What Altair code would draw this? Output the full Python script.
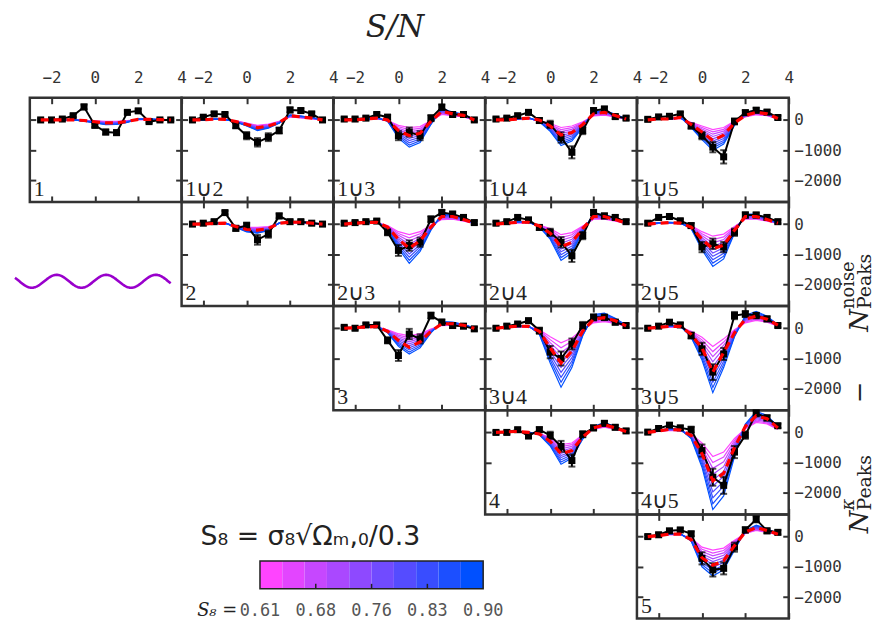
import altair as alt
import numpy as np
import pandas as pd

# ---------------- data ----------------
SN = [-2.5, -2.0, -1.5, -1.0, -0.5, 0.0, 0.5, 1.0, 1.5, 2.0, 2.5, 3.0, 3.5]

S8_VALUES = [0.61, 0.642, 0.674, 0.707, 0.739, 0.771, 0.803, 0.836, 0.868, 0.90]
S8_COLORS = ["#ff44ff", "#e345ff", "#c647ff", "#aa48ff", "#8e49ff",
             "#714bff", "#554cff", "#394dff", "#1c4fff", "#0050ff"]
CB_EDGES = [0.61, 0.639, 0.668, 0.697, 0.726, 0.755, 0.784, 0.813, 0.842, 0.871, 0.90]
CB_TICKS = [0.61, 0.6825, 0.755, 0.8275, 0.90]
CB_LABELS = ["0.61", "0.68", "0.76", "0.83", "0.90"]

# observed peak-count differences (black)
DATA = {
    "1":   [0, 0, 30, 140, 430, -180, -400, -420, 250, 300, -55, 0, 0],
    "1∪2": [0, 90, 200, 180, -190, -520, -740, -570, -350, 330, 310, 200, 0],
    "1∪3": [30, 30, 60, 180, 90, -520, -400, -520, 60, 420, 180, 180, 0],
    "1∪4": [30, 60, 140, 250, -20, -150, -580, -1070, -350, 310, 360, 110, 60],
    "1∪5": [20, 100, 120, 200, -200, -520, -900, -1220, -50, 240, 320, 260, 80],
    "2":   [0, 30, 80, 380, -140, -50, -520, -330, 270, 80, 80, 30, 0],
    "2∪3": [30, 50, 80, 100, -270, -870, -710, -600, 160, 380, 330, 220, 50],
    "2∪4": [30, 80, 220, 140, -110, -270, -600, -1050, -380, 380, 270, 220, 80],
    "2∪5": [30, 220, 250, 110, -50, -760, -650, -760, -270, 300, 300, 220, 80],
    "3":   [30, 0, 110, 110, -400, -900, -190, -350, 420, 200, 90, 70, -20],
    "3∪4": [0, 70, 140, 250, -80, -790, -1000, -520, 90, 360, 360, 200, 90],
    "3∪5": [0, 70, 200, 110, -240, -680, -1450, -850, 420, 470, 420, 310, 90],
    "4":   [0, 0, 90, -120, 90, -100, -460, -930, -60, 150, 300, 170, 50],
    "4∪5": [10, 130, 240, 150, 90, -600, -1480, -1750, -650, -90, 630, 480, 220],
    "5":   [0, 60, 190, 220, 90, -720, -1100, -1050, -350, 220, 570, 190, 140],
}
ERR = {
    "1":   [40, 40, 40, 50, 80, 60, 80, 80, 60, 60, 40, 40, 40],
    "1∪2": [50, 50, 60, 60, 80, 120, 140, 130, 100, 80, 70, 60, 50],
    "1∪3": [50, 50, 60, 60, 80, 150, 150, 150, 100, 90, 80, 70, 50],
    "1∪4": [50, 50, 60, 60, 80, 120, 170, 200, 120, 80, 80, 70, 60],
    "1∪5": [50, 60, 60, 60, 80, 120, 170, 220, 100, 80, 80, 70, 60],
    "2":   [50, 50, 50, 60, 80, 100, 160, 120, 80, 60, 60, 50, 50],
    "2∪3": [50, 50, 60, 60, 100, 180, 170, 150, 100, 90, 80, 70, 60],
    "2∪4": [50, 50, 60, 60, 80, 120, 170, 200, 120, 90, 80, 70, 60],
    "2∪5": [50, 60, 60, 60, 80, 170, 170, 170, 120, 90, 80, 70, 60],
    "3":   [50, 50, 60, 60, 100, 180, 170, 150, 100, 90, 80, 70, 60],
    "3∪4": [50, 60, 60, 70, 100, 200, 230, 180, 120, 100, 90, 80, 60],
    "3∪5": [50, 60, 60, 70, 100, 200, 260, 200, 120, 100, 90, 80, 60],
    "4":   [50, 50, 60, 60, 80, 120, 180, 200, 100, 80, 80, 70, 60],
    "4∪5": [50, 60, 60, 70, 100, 200, 280, 280, 200, 120, 100, 90, 70],
    "5":   [50, 60, 60, 60, 80, 200, 220, 200, 150, 90, 100, 80, 70],
}
# fiducial model (red dashed)
FID = {
    "1":   [0, 0, 0, 0, -20, -60, -100, -100, -50, 20, 20, 10, 0],
    "1∪2": [0, 0, 30, 20, -50, -150, -260, -200, -80, 140, 100, 60, 0],
    "1∪3": [0, 0, 30, 60, 0, -350, -520, -440, -50, 290, 200, 150, 0],
    "1∪4": [0, 0, 30, 60, 0, -200, -500, -420, -150, 200, 250, 150, 30],
    "1∪5": [0, 30, 30, 80, -150, -400, -680, -500, -100, 150, 250, 200, 50],
    "2":   [0, 0, 20, 30, -80, -180, -200, -150, 30, 60, 60, 30, 0],
    "2∪3": [0, 30, 50, 60, -100, -500, -800, -550, -100, 250, 250, 150, 30],
    "2∪4": [0, 30, 60, 60, -60, -300, -750, -600, -150, 250, 250, 150, 30],
    "2∪5": [0, 30, 50, 30, -100, -500, -820, -700, -200, 250, 250, 150, 30],
    "3":   [0, 20, 40, 60, -100, -400, -630, -450, -100, 150, 150, 100, 0],
    "3∪4": [0, 40, 70, 60, -100, -650, -1150, -750, -100, 300, 350, 250, 80],
    "3∪5": [0, 30, 60, 60, -200, -650, -1450, -800, -150, 300, 400, 300, 100],
    "4":   [0, 20, 30, 0, -50, -300, -700, -600, -150, 150, 250, 150, 30],
    "4∪5": [0, 50, 100, 80, -100, -700, -1600, -1350, -500, 200, 550, 450, 150],
    "5":   [0, 30, 80, 80, -100, -700, -950, -800, -300, 150, 300, 200, 80],
}
# model curves at the lowest (S8 = 0.61) and highest (S8 = 0.90) S8
MODEL_LO = {
    "1":   [0, 0, 0, 0, -10, -30, -50, -50, -20, 10, 10, 5, 0],
    "1∪2": [0, 0, 20, 15, -30, -100, -180, -140, -50, 100, 70, 40, 0],
    "1∪3": [0, 0, 20, 40, -20, -180, -250, -220, -20, 180, 140, 100, 0],
    "1∪4": [0, 0, 20, 40, -20, -120, -250, -200, -60, 130, 160, 100, 20],
    "1∪5": [0, 20, 20, 50, -80, -200, -320, -250, -40, 100, 170, 140, 30],
    "2":   [0, 0, 15, 20, -50, -100, -110, -80, 20, 40, 40, 20, 0],
    "2∪3": [0, 20, 30, 40, -50, -250, -350, -250, -30, 150, 160, 100, 20],
    "2∪4": [0, 20, 40, 40, -30, -150, -350, -280, -60, 160, 160, 100, 20],
    "2∪5": [0, 20, 30, 20, -50, -250, -400, -330, -80, 160, 160, 100, 20],
    "3":   [0, 10, 30, 40, -50, -180, -250, -180, -30, 90, 100, 70, 0],
    "3∪4": [0, 30, 50, 40, -50, -280, -480, -320, -30, 180, 220, 160, 60],
    "3∪5": [0, 20, 40, 40, -100, -300, -600, -350, -50, 180, 260, 200, 70],
    "4":   [0, 10, 20, 0, -30, -180, -400, -350, -80, 100, 170, 100, 20],
    "4∪5": [0, 30, 70, 50, -50, -350, -800, -650, -200, 120, 330, 280, 100],
    "5":   [0, 20, 60, 60, -50, -350, -450, -380, -120, 100, 200, 140, 60],
}
MODEL_HI = {
    "1":   [0, 0, 0, 0, -40, -100, -160, -150, -80, 30, 30, 15, 0],
    "1∪2": [0, 0, 30, 20, -70, -200, -350, -270, -110, 170, 130, 80, 0],
    "1∪3": [0, 10, 40, 80, -40, -600, -900, -750, -150, 380, 260, 190, 10],
    "1∪4": [0, 10, 40, 80, -60, -380, -850, -700, -250, 280, 320, 190, 40],
    "1∪5": [0, 40, 40, 100, -250, -650, -1000, -800, -180, 230, 340, 260, 60],
    "2":   [0, 0, 25, 40, -110, -260, -300, -220, 40, 80, 80, 40, 0],
    "2∪3": [0, 40, 60, 80, -170, -800, -1300, -900, -200, 330, 320, 190, 40],
    "2∪4": [0, 40, 80, 80, -100, -500, -1200, -950, -250, 340, 320, 190, 40],
    "2∪5": [0, 40, 60, 40, -150, -850, -1400, -1150, -300, 330, 330, 190, 40],
    "3":   [0, 30, 50, 70, -150, -600, -850, -650, -150, 220, 200, 130, 10],
    "3∪4": [0, 50, 80, 80, -200, -1150, -1950, -1300, -250, 450, 500, 330, 100],
    "3∪5": [0, 40, 80, 80, -300, -1050, -2130, -1300, -280, 420, 560, 400, 120],
    "4":   [0, 30, 40, 10, -80, -450, -1050, -850, -220, 200, 320, 200, 40],
    "4∪5": [0, 70, 130, 110, -200, -1150, -2550, -2100, -800, 280, 700, 560, 200],
    "5":   [0, 40, 100, 100, -150, -1000, -1300, -1100, -450, 200, 380, 260, 100],
}

GRID = [
    ["1", "1∪2", "1∪3", "1∪4", "1∪5"],
    ["WAVE", "2", "2∪3", "2∪4", "2∪5"],
    [None, None, "3", "3∪4", "3∪5"],
    [None, None, None, "4", "4∪5"],
    ["CBAR", None, None, None, "5"],
]

# ---------------- layout constants ----------------
W, H = 153, 105
XDOM = [-3, 4]
YDOM = [-2710, 733]
TICK_FONT = "DejaVu Sans Mono"
DARK = "#333333"
TOP0 = 97          # page y of the first panel row
COL5_LEFT = 636    # page x of the last panel column


def axis(orient, values, labels, pad):
    return alt.Axis(orient=orient, values=values, labels=labels, grid=False,
                    domain=False, ticks=True, tickSize=6, offset=-6,
                    tickColor=DARK, tickWidth=2, title=None, format="d",
                    labelFont=TICK_FONT, labelFontSize=16, labelColor=DARK,
                    labelOverlap=False, labelFlush=False, labelPadding=pad)


def model_frame(name):
    lo = np.array(MODEL_LO[name], dtype=float)
    hi = np.array(MODEL_HI[name], dtype=float)
    rows = []
    for k in range(len(S8_VALUES)):
        w = k / (len(S8_VALUES) - 1)
        vals = lo + (hi - lo) * w
        for s, v in zip(SN, vals):
            rows.append({"sn": s, "v": float(v), "k": k})
    return pd.DataFrame(rows)


def text_piece(t, fs, style, px, py, angle=0, align="left", baseline="alphabetic", font="DejaVu Serif"):
    kw = dict(align=align, baseline=baseline, font=font, fontSize=fs,
              fontStyle=style, color="#222")
    if angle:
        kw["angle"] = angle
    return alt.Chart(pd.DataFrame({"t": [t]})).mark_text(**kw).encode(
        x=alt.value(px), y=alt.value(py), text="t:N")


def ytitle_layers():
    # N^kappa_Peaks  -  N^noise_Peaks, rotated, read bottom-to-top (page coords)
    top = TOP0 + 2 * H
    pieces = [
        ("N", 26, "italic", 869, 536),
        ("κ", 18, "italic", 855, 513),
        ("Peaks", 19, "normal", 872, 513),
        ("−", 26, "normal", 869, 405),
        ("N", 26, "italic", 869, 333),
        ("noise", 18, "normal", 855, 310),
        ("Peaks", 19, "normal", 872, 310),
    ]
    return [text_piece(t, fs, st, gx - COL5_LEFT, gy - top, angle=270)
            for t, fs, st, gx, gy in pieces]


def panel(name, top_labels, right_labels):
    xs = alt.Scale(domain=XDOM, nice=False, zero=False)
    ys = alt.Scale(domain=YDOM, nice=False, zero=False)
    obs = pd.DataFrame({"sn": SN, "v": DATA[name],
                        "lo": [d - e for d, e in zip(DATA[name], ERR[name])],
                        "hi": [d + e for d, e in zip(DATA[name], ERR[name])]})
    fid = pd.DataFrame({"sn": SN, "v": FID[name]})

    models = alt.Chart(model_frame(name)).mark_line(strokeWidth=1.2).encode(
        x=alt.X("sn:Q", scale=xs, axis=axis("bottom", [-2, 0, 2, 4], False, 4)),
        y=alt.Y("v:Q", scale=ys, axis=axis("left", [0, -1000, -2000], False, 4)),
        color=alt.Color("k:O", scale=alt.Scale(domain=list(range(10)), range=S8_COLORS), legend=None),
        order=alt.Order("sn:Q"),
    )
    obs_line = alt.Chart(obs).mark_line(color="black", strokeWidth=2).encode(
        x=alt.X("sn:Q", scale=xs, axis=axis("top", [-2, 0, 2, 4], top_labels, 12)),
        y=alt.Y("v:Q", scale=ys, axis=axis("right", [0, -1000, -2000], right_labels, 5)),
    )
    err_rule = alt.Chart(obs).mark_rule(color="black", strokeWidth=2).encode(
        x=alt.X("sn:Q", scale=xs, axis=None),
        y=alt.Y("lo:Q", scale=ys, axis=None), y2="hi:Q")
    cap_lo = alt.Chart(obs).mark_tick(orient="horizontal", size=7, thickness=2, color="black").encode(
        x=alt.X("sn:Q", scale=xs, axis=None), y=alt.Y("lo:Q", scale=ys, axis=None))
    cap_hi = alt.Chart(obs).mark_tick(orient="horizontal", size=7, thickness=2, color="black").encode(
        x=alt.X("sn:Q", scale=xs, axis=None), y=alt.Y("hi:Q", scale=ys, axis=None))
    squares = alt.Chart(obs).mark_square(size=50, color="black", opacity=1).encode(
        x=alt.X("sn:Q", scale=xs, axis=None), y=alt.Y("v:Q", scale=ys, axis=None))
    fid_line = alt.Chart(fid).mark_line(color="#ff0000", strokeWidth=3.2, strokeDash=[8, 5]).encode(
        x=alt.X("sn:Q", scale=xs, axis=None), y=alt.Y("v:Q", scale=ys, axis=None))
    label = text_piece(name, 22, "normal", 4, H - 6, font="Liberation Serif")

    layers = [models, obs_line, err_rule, cap_lo, cap_hi, squares, fid_line, label]
    if name == "3∪5":
        layers += ytitle_layers()
    if name == "1∪3":
        # figure title S/N
        layers.append(text_piece("S/N", 31, "italic", 392 - 330, -70,
                                 align="center", baseline="middle"))
    return alt.layer(*layers).resolve_axis(x="independent", y="independent").properties(width=W, height=H)


def empty_cell():
    return alt.Chart(pd.DataFrame({"t": [" "]})).mark_text(fontSize=4).encode(
        x=alt.value(W / 2), y=alt.value(H / 2), text="t:N"
    ).properties(width=W, height=H, view=alt.ViewBackground(stroke="transparent"))


def wave_cell():
    # decorative wavy line, in cell pixel units
    xg = np.linspace(-15, 142, 240)
    yg = 80 + 6.5 * np.sin(2 * np.pi * (xg + 23 - 12.5) / 50.0)
    df = pd.DataFrame({"x": xg, "y": yg})
    return alt.Chart(df).mark_line(color="#9900cc", strokeWidth=2.6).encode(
        x=alt.X("x:Q", scale=alt.Scale(domain=[0, W], nice=False, zero=False), axis=None),
        y=alt.Y("y:Q", scale=alt.Scale(domain=[0, H], nice=False, zero=False, reverse=True), axis=None),
    ).properties(width=W, height=H, view=alt.ViewBackground(stroke="transparent"))


def colorbar_cell():
    px = (0.90 - 0.61) / 225.0
    left_px = 232
    cbs = alt.Scale(domain=[0.61 - left_px * px, 0.61 + (W - left_px) * px], nice=False, zero=False)
    blocks = pd.DataFrame({"a": CB_EDGES[:-1], "b": CB_EDGES[1:], "c": S8_COLORS})
    rects = alt.Chart(blocks).mark_rect().encode(
        x=alt.X("a:Q", scale=cbs, axis=None), x2="b:Q",
        y=alt.value(47), y2=alt.value(75),
        color=alt.Color("c:N", scale=None))
    frame = alt.Chart(pd.DataFrame({"a": [CB_EDGES[0]], "b": [CB_EDGES[-1]]})).mark_rect(
        fillOpacity=0, stroke="#222", strokeWidth=1.5).encode(
        x=alt.X("a:Q", scale=cbs, axis=None), x2="b:Q",
        y=alt.value(47), y2=alt.value(75))
    ticks = alt.Chart(pd.DataFrame({"t": CB_TICKS[1:-1]})).mark_rule(color="#222", strokeWidth=1.5).encode(
        x=alt.X("t:Q", scale=cbs, axis=None), y=alt.value(70), y2=alt.value(75))
    labels = alt.Chart(pd.DataFrame({"t": CB_TICKS, "l": CB_LABELS})).mark_text(
        font=TICK_FONT, fontSize=17, color="#555", baseline="middle").encode(
        x=alt.X("t:Q", scale=cbs, axis=None), y=alt.value(97), text="l:N")
    s8 = text_piece("S₈ =", 18, "italic", 209, 97, align="right", baseline="middle")
    title = text_piece("S₈ = σ₈√Ωₘ,₀/0.3", 27, "normal", 172, 23,
                       baseline="middle", font="DejaVu Sans")
    return alt.layer(rects, frame, ticks, labels, s8, title).properties(
        width=W, height=H, view=alt.ViewBackground(stroke="transparent"))


cells = []
for r, row in enumerate(GRID):
    for c, name in enumerate(row):
        if name is None:
            cells.append(empty_cell())
        elif name == "WAVE":
            cells.append(wave_cell())
        elif name == "CBAR":
            cells.append(colorbar_cell())
        else:
            cells.append(panel(name, top_labels=(r == 0), right_labels=(c == 4)))

chart = alt.concat(*cells, columns=5, spacing=0, bounds="flush").properties(
    padding=0, background="white"
).configure_view(stroke=DARK, strokeWidth=2.5)

chart.save("out.html", embed_options={"renderer": "svg", "actions": False})
